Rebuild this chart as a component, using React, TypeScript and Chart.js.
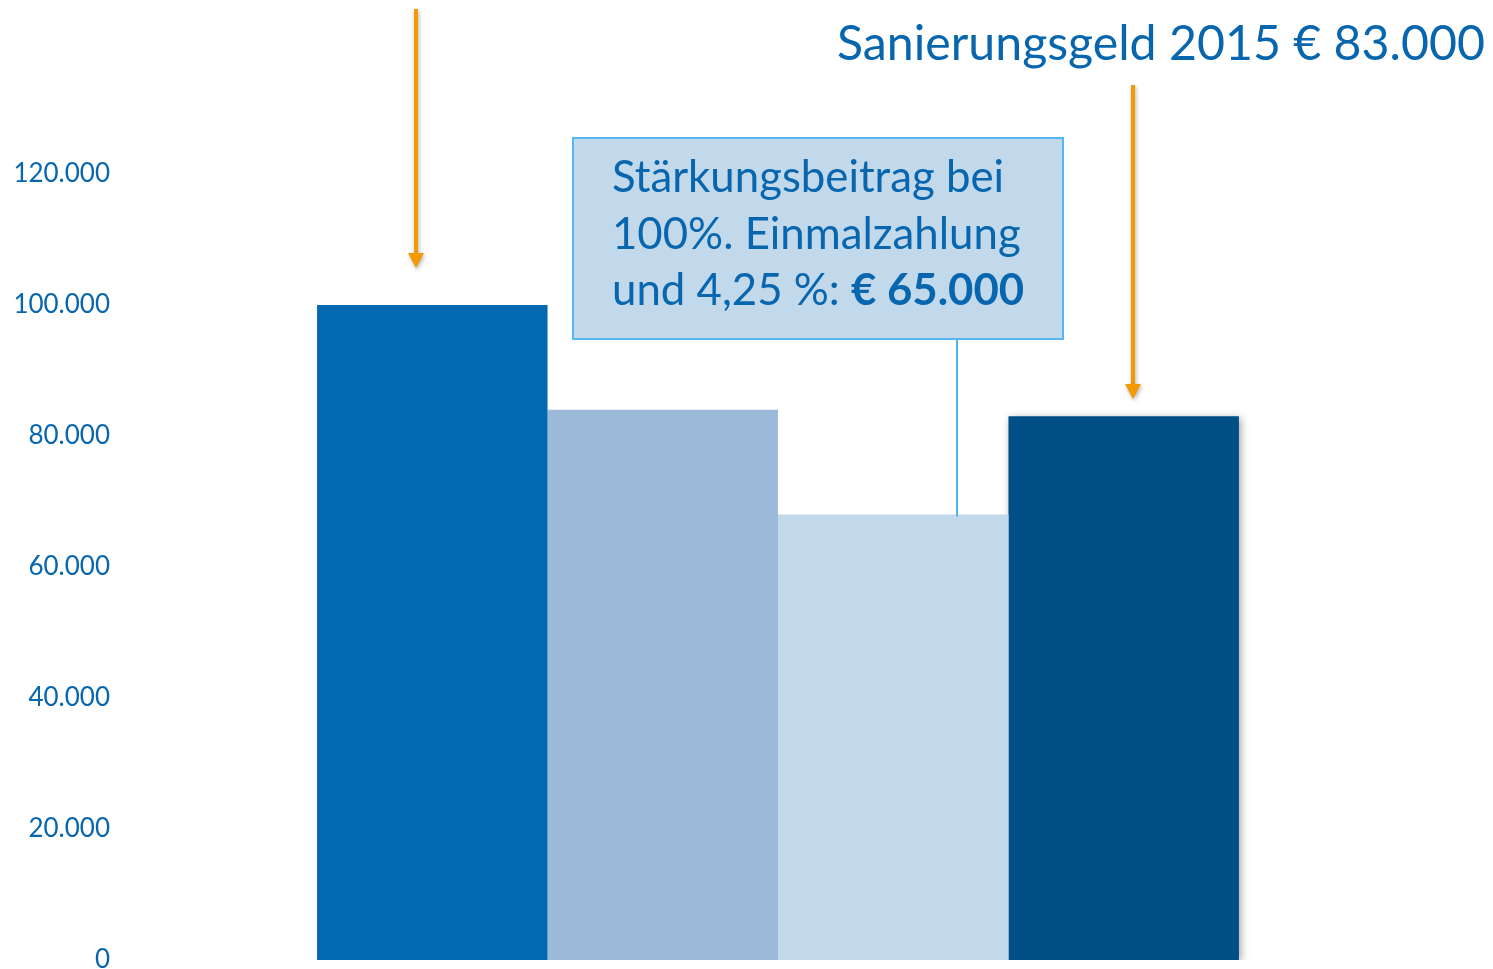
import React, { useEffect, useRef } from "react";
import { Chart, registerables } from "chart.js";

Chart.register(...registerables);

// ---- Data ----
const categories: string[] = [""];
const seriesLabels: string[] = [
  "Stärkungsbeitrag 100%",
  "Stärkungsbeitrag",
  "Stärkungsbeitrag bei 100%. Einmalzahlung und 4,25 %",
  "Sanierungsgeld 2015",
];
const seriesValues: number[] = [100000, 84000, 68000, 83000];
const seriesColors: string[] = ["#0368B2", "#9DB9D9", "#C2D9EC", "#014F87"];
const yTicks: number[] = [0, 20000, 40000, 60000, 80000, 100000, 120000];
const titleText = "Sanierungsgeld 2015 € 83.000";
const calloutLines: string[] = ["Stärkungsbeitrag bei", "100%. Einmalzahlung", "und 4,25 %: "];
const calloutBold = "€ 65.000";

const TEXT_BLUE = "#0866AE";
const ORANGE = "#F39A00";
const FONT = "Lato, 'Open Sans', sans-serif";

function fmt(v: number): string {
  return String(Math.round(v)).replace(/\B(?=(\d{3})+(?!\d))/g, ".");
}

function fitSize(ctx: CanvasRenderingContext2D, parts: { t: string; w: string }[], target: number): number {
  let total = 0;
  for (const p of parts) {
    ctx.font = `${p.w} 100px ${FONT}`;
    total += ctx.measureText(p.t).width;
  }
  return (100 * target) / total;
}

function drawArrow(ctx: CanvasRenderingContext2D, x: number, y0: number, y1: number) {
  ctx.save();
  ctx.shadowColor = "rgba(0,0,0,0.3)";
  ctx.shadowBlur = 4;
  ctx.shadowOffsetX = 1;
  ctx.shadowOffsetY = 2;
  ctx.strokeStyle = ORANGE;
  ctx.fillStyle = ORANGE;
  ctx.lineWidth = 4;
  ctx.beginPath();
  ctx.moveTo(x, y0);
  ctx.lineTo(x, y1 - 12);
  ctx.stroke();
  ctx.beginPath();
  ctx.moveTo(x - 8, y1 - 15);
  ctx.lineTo(x + 8, y1 - 15);
  ctx.lineTo(x, y1);
  ctx.closePath();
  ctx.fill();
  ctx.restore();
}

const annotationPlugin = {
  id: "annotations",
  beforeDatasetDraw(chart: any, args: any) {
    if (args.index === 3) {
      const ctx = chart.ctx;
      ctx.save();
      ctx.shadowColor = "rgba(0,0,0,0.35)";
      ctx.shadowBlur = 8;
      ctx.shadowOffsetX = 2;
      ctx.shadowOffsetY = 2;
    }
  },
  afterDatasetDraw(chart: any, args: any) {
    if (args.index === 3) chart.ctx.restore();
  },
  afterDraw(chart: any) {
    const ctx: CanvasRenderingContext2D = chart.ctx;
    const yScale = chart.scales.y;
    ctx.save();

    // arrows
    drawArrow(ctx, 416, 9, 268);
    drawArrow(ctx, 1133, 85, 399);

    // title
    const ts = fitSize(ctx, [{ t: titleText, w: "normal" }], 648);
    ctx.font = `normal ${ts}px ${FONT}`;
    ctx.fillStyle = TEXT_BLUE;
    ctx.textBaseline = "alphabetic";
    ctx.textAlign = "left";
    ctx.fillText(titleText, 837, 60);

    // leader line
    const yLeader = yScale.getPixelForValue(seriesValues[2]);
    ctx.strokeStyle = "#4AB4F4";
    ctx.lineWidth = 2;
    ctx.beginPath();
    ctx.moveTo(957, 339);
    ctx.lineTo(957, yLeader + 2);
    ctx.stroke();

    // callout box
    ctx.fillStyle = "#C2D9EC";
    ctx.fillRect(573, 138, 490, 201);
    ctx.strokeStyle = "#58B7F2";
    ctx.lineWidth = 2;
    ctx.strokeRect(573, 138, 490, 201);

    // callout text
    const s1 = fitSize(ctx, [{ t: calloutLines[0], w: "normal" }], 395);
    const s2 = fitSize(ctx, [{ t: calloutLines[1], w: "normal" }], 410);
    const s3 = fitSize(ctx, [{ t: calloutLines[2], w: "normal" }, { t: calloutBold, w: "bold" }], 408);
    const s = (s1 + s2 + s3) / 3;
    ctx.fillStyle = TEXT_BLUE;
    ctx.font = `normal ${s}px ${FONT}`;
    ctx.fillText(calloutLines[0], 612, 192);
    ctx.fillText(calloutLines[1], 612, 249);
    ctx.fillText(calloutLines[2], 612, 305);
    const w3 = ctx.measureText(calloutLines[2]).width;
    ctx.font = `bold ${s}px ${FONT}`;
    ctx.fillText(calloutBold, 612 + w3, 305);

    ctx.restore();
  },
};

export default function App() {
  const ref = useRef<HTMLCanvasElement | null>(null);

  useEffect(() => {
    document.body.style.margin = "0";
    const canvas = ref.current;
    if (!canvas) return;
    const chart = new Chart(canvas, {
      type: "bar",
      data: {
        labels: categories,
        datasets: seriesValues.map((v, i) => ({
          label: seriesLabels[i],
          data: [v],
          backgroundColor: seriesColors[i],
          borderWidth: 0,
          barPercentage: 1,
          categoryPercentage: 0.69,
        })),
      },
      options: {
        animation: false,
        responsive: false,
        maintainAspectRatio: false,
        layout: { padding: { top: 174, bottom: 9, left: 0, right: 47 } },
        plugins: {
          legend: { display: false },
          tooltip: { enabled: false },
          title: { display: false },
        },
        scales: {
          x: { display: false, grid: { display: false } },
          y: {
            min: 0,
            max: 120000,
            afterBuildTicks: (scale: any) => {
              scale.ticks = yTicks.map((v) => ({ value: v }));
            },
            afterFit: (scale: any) => {
              scale.width = 110;
              scale.paddingTop = 0;
              scale.paddingBottom = 0;
            },
            grid: { display: false, drawTicks: false },
            border: { display: false },
            ticks: {
              padding: 0,
              color: TEXT_BLUE,
              font: { family: FONT, size: 26, lineHeight: 0.6 },
              callback: (v: any) => fmt(Number(v)),
            },
          },
        },
      },
      plugins: [annotationPlugin],
    });
    return () => chart.destroy();
  }, []);

  return (
    <div style={{ position: "fixed", left: 0, top: 0, width: 1493, height: 969, background: "#fff" }}>
      <canvas ref={ref} width={1493} height={969} style={{ display: "block" }} />
    </div>
  );
}
